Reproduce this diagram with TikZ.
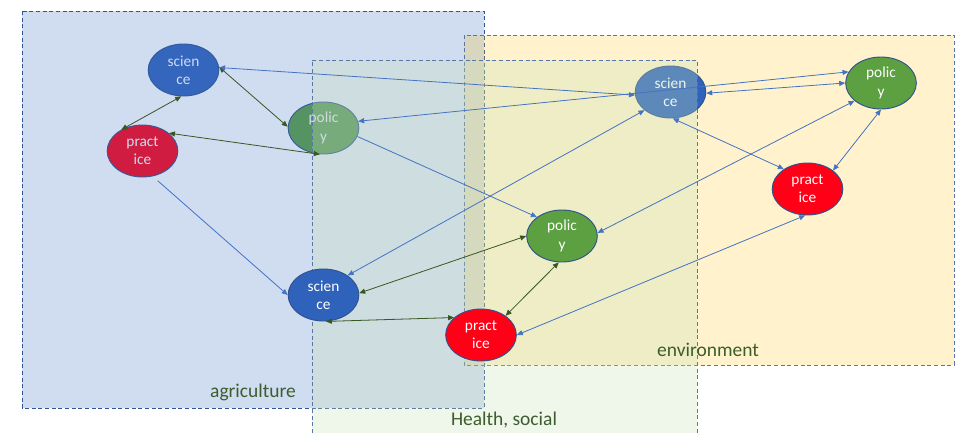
\documentclass[tikz,border=0pt]{standalone}
\usepackage{fontspec}
\setmainfont{Carlito}
\usepackage{xcolor}
\definecolor{sciblue}{RGB}{47,98,187}
\definecolor{pracred}{RGB}{255,0,22}
\definecolor{polgreen}{RGB}{92,160,66}
\definecolor{nodeline}{RGB}{47,82,143}
\definecolor{arrowblue}{RGB}{68,114,196}
\definecolor{arrowgreen}{RGB}{56,87,35}
\definecolor{agriline}{RGB}{47,85,151}
\definecolor{boxline}{RGB}{88,118,168}
\definecolor{agriblue}{RGB}{68,114,196}
\definecolor{envorange}{RGB}{255,192,0}
\definecolor{healthgreen}{RGB}{202,225,185}
\definecolor{labelgreen}{RGB}{62,92,45}
\usepackage{tikz}
\usetikzlibrary{shapes.geometric, arrows.meta}
\tikzset{
  ellnode/.style={
    ellipse, draw=nodeline, line width=0.7pt, fill=#1,
    minimum width=53pt, minimum height=39pt, inner sep=0pt,
    align=center, text=white, font=\fontsize{11.5}{13.7}\selectfont
  },
  areabox/.style={
    draw=#1, line width=0.75pt, dash pattern=on 3pt off 2pt
  },
  arealabel/.style={text=labelgreen, font=\fontsize{14.6}{17}\selectfont},
  bline/.style={line width=0.6pt, draw=arrowblue},
  gline/.style={line width=0.6pt, draw=arrowgreen},
}

\begin{document}
\begin{tikzpicture}[x=0.75pt, y=-0.75pt, >={Triangle[length=4.5pt,width=3.8pt]}]

  \useasboundingbox (0,0) rectangle (959,433);

  % --- Nodos de agriculture (bajo el recuadro) ---
  \node (sciagri) [ellnode=sciblue] at (183.5,70) {scien\\ce};
  \node (pracagri) [ellnode=pracred] at (142.5,151) {pract\\ice};
  \node (polagri) [ellnode=polgreen] at (323.5,128) {polic\\y};

  % --- Recuadros agriculture y environment ---
  \draw[areabox=agriline, fill=agriblue, fill opacity=0.25] (22,11) rectangle (484,408);
  \draw[areabox=boxline, fill=envorange, fill opacity=0.2] (464,35) rectangle (954,365);

  \node (scienv) [ellnode=sciblue] at (670.5,92) {scien\\ce};

  % --- Recuadro Health, social (abierto por abajo) ---
  \fill[healthgreen, fill opacity=0.3] (312,60) rectangle (697,433);
  \draw[areabox=boxline] (312,433) -- (312,60) -- (697,60) -- (697,433);

  % --- Resto de nodos ---
  \node (scihealth) [ellnode=sciblue] at (323.5,295) {scien\\ce};
  \node (prachealth) [ellnode=pracred] at (481,335) {pract\\ice};
  \node (polhealth) [ellnode=polgreen] at (562,236) {polic\\y};
  \node (polenv) [ellnode=polgreen] at (881,83) {polic\\y};
  \node (pracenv) [ellnode=pracred] at (807.5,189) {pract\\ice};

  % --- Etiquetas de los recuadros ---
  \node (agrilabel) [arealabel] at (253,392) {agriculture};
  \node (healthlabel) [arealabel] at (504,420) {Health, social};
  \node (envlabel) [arealabel] at (708,350) {environment};

  % --- Conexiones ---
  \draw[gline, <->] (pracagri.135) -- (sciagri.265);
  \draw[gline, <->] (sciagri.5) -- (polagri.178);
  \draw[gline, <->] (pracagri.34) -- (polagri.262);
  \draw[bline, <->] (sciagri.4) -- (scienv.185);
  \draw[bline, <->] (polagri.11) -- (polenv.161);
  \draw[bline, <->] (scienv.358) -- (polenv.180);
  \draw[bline, ->] (polagri.346) -- (polhealth.143);
  \draw[bline, ->, shorten <=5pt] (pracagri.-68) -- (scihealth.180);
  \draw[bline, <->] (scihealth.39) -- (scienv.215);
  \draw[gline, <->] (scihealth.3) -- (polhealth.180);
  \draw[gline, <->] (scihealth.275) -- (prachealth.147);
  \draw[gline, <->] (polhealth.263) -- (prachealth.38);
  \draw[bline, <->] (polenv.214) -- (polhealth.5);
  \draw[bline, <->] (pracenv.265) -- (prachealth.0);
  \draw[bline, <->] (scienv.275) -- (pracenv.140);
  \draw[bline, <->] (polenv.270) -- (pracenv.36);

\end{tikzpicture}
\end{document}
